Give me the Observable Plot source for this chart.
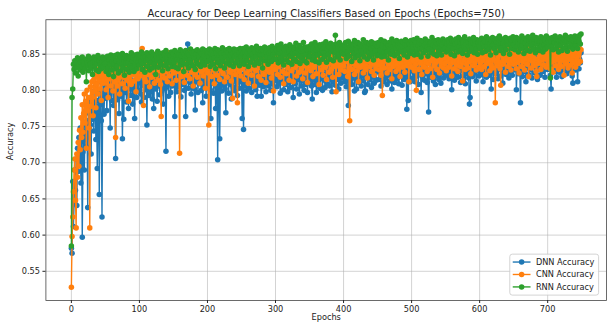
<!DOCTYPE html>
<html>
<head>
<meta charset="utf-8">
<script src="https://cdn.jsdelivr.net/npm/d3@7"></script>
<script src="https://cdn.jsdelivr.net/npm/@observablehq/plot@0.6"></script>
<style>
  html, body { margin: 0; padding: 0; background: #fff; overflow: hidden; }
  #wrap { width: 608px; height: 330px; overflow: hidden; position: relative; }
</style>
</head>
<body>
<div id="wrap"></div>
<script>
// Accuracy values in per-mille, one per epoch (0..749)
const dnnMilli = [
582,575,674,612,645,690,662,705,641,720,688,735,700,748,672,729,597,715,752,690,741,768,722,758,638,776,735,790,752,712,781,760,798,744,775,805,732,786,692,770,801,656,780,812,758,625,795,818,767,808,
789,815,772,801,826,795,810,748,822,786,805,831,779,812,798,706,820,803,787,828,768,809,834,792,815,733,804,760,823,797,811,784,826,802,775,818,836,793,809,824,781,813,799,761,829,806,790,817,835,800,
812,838,795,784,826,807,819,790,833,801,815,752,828,809,793,821,836,798,813,788,824,775,810,839,802,817,785,830,806,822,794,837,811,799,825,781,816,834,803,716,820,808,829,792,840,813,797,823,806,831,
817,835,764,809,826,798,821,837,805,814,829,791,823,808,836,812,800,827,764,818,832,864,803,825,811,838,795,820,807,833,816,802,773,829,812,840,797,822,809,831,815,800,826,783,819,835,806,824,792,830,
808,827,815,836,801,761,822,810,833,796,818,829,775,814,805,704,826,818,733,811,838,799,823,807,816,832,802,769,825,813,840,796,819,808,834,788,821,827,804,816,837,799,824,811,793,830,815,803,828,812,
822,761,817,746,831,806,824,799,835,812,818,803,829,815,838,797,810,826,808,833,817,801,823,792,836,814,807,828,820,792,813,839,805,825,811,830,798,822,816,834,806,819,826,800,832,815,809,783,827,818,
814,832,805,823,838,809,817,796,829,822,812,835,801,819,826,808,840,815,798,828,811,834,804,821,830,813,790,826,818,809,837,802,824,815,832,795,819,828,806,839,813,822,800,830,817,808,836,797,825,819,
829,812,836,806,788,823,815,840,808,826,797,832,819,811,837,803,825,816,834,800,822,830,814,804,838,818,809,827,821,841,806,831,817,798,835,823,812,829,807,843,820,815,833,802,826,838,810,824,817,832,
820,836,812,828,805,833,819,779,826,841,814,822,808,838,817,830,799,825,835,802,829,816,842,811,824,833,806,839,821,813,832,797,799,827,836,818,808,840,823,815,831,804,828,837,819,810,842,825,814,833,
826,841,815,832,822,806,838,819,829,812,843,824,817,835,808,830,839,821,813,836,827,802,833,818,844,811,828,837,823,816,840,809,831,825,834,819,807,842,828,815,836,822,830,774,818,786,839,826,812,833,
829,843,817,836,824,812,840,827,820,834,808,845,825,831,797,838,819,828,842,814,833,823,837,811,829,770,826,844,818,835,822,839,813,830,841,808,827,836,820,845,815,833,826,810,839,824,843,817,832,828,
838,821,834,827,845,816,831,840,823,801,836,828,844,814,830,839,822,847,818,833,826,841,811,835,829,843,820,837,825,809,840,831,823,846,817,781,790,834,828,842,819,836,845,824,831,813,839,827,843,820,
835,846,822,838,829,812,841,833,825,844,818,836,830,847,821,837,826,802,843,832,815,839,828,848,823,834,841,816,836,829,845,820,838,831,810,843,826,835,849,822,837,829,842,817,833,846,825,839,821,836,
844,828,837,849,801,832,841,823,846,835,783,830,843,819,838,847,826,834,812,845,831,839,822,848,836,829,843,817,840,833,850,824,837,845,828,815,842,834,848,821,839,830,844,826,836,849,818,841,833,846,
829,843,836,848,821,802,838,845,830,841,826,849,834,818,844,837,850,825,840,832,846,819,838,847,829,842,835,851,823,839,844,831,848,827,836,842,820,810,845,833,850,828,841,837,812,846,830,843,838,852
];
const cnnMilli = [
528,598,625,660,690,705,648,610,712,680,728,695,745,718,762,735,780,742,768,795,755,785,720,800,772,790,748,610,805,778,812,790,765,815,798,822,776,808,825,795,818,830,802,827,786,820,833,810,828,815,
826,801,835,815,790,831,818,840,806,828,836,799,822,838,812,735,829,842,806,833,817,795,837,820,843,809,830,818,839,803,834,845,814,828,785,836,811,824,808,838,822,846,813,833,840,798,827,844,816,835,
842,820,838,849,858,826,779,840,816,845,812,836,850,822,841,805,837,846,818,839,828,848,810,835,843,821,851,814,838,827,845,808,764,840,823,847,830,817,849,826,842,812,837,852,820,840,829,846,809,838,
824,844,831,851,814,839,847,826,842,713,832,849,819,841,852,828,811,845,835,850,821,843,830,853,816,840,847,825,844,806,837,852,822,846,834,818,850,828,843,810,848,826,841,853,820,845,833,803,842,830,
849,824,752,844,832,851,819,842,847,828,809,845,834,852,821,843,830,849,815,841,853,827,846,823,840,812,848,831,851,818,844,835,853,825,845,813,842,789,850,829,846,822,843,852,783,836,847,826,854,820,
841,850,830,845,815,848,834,853,824,844,810,851,828,846,838,821,852,831,844,806,849,827,847,836,854,819,843,832,851,814,845,829,852,822,847,838,811,850,830,844,853,825,846,833,817,851,831,799,848,836,
829,852,841,822,849,833,855,818,846,836,851,826,809,848,839,854,823,845,831,852,814,847,837,855,827,849,812,843,851,832,846,820,853,836,848,825,845,856,830,850,816,844,834,853,824,847,838,811,851,831,
846,854,827,849,836,819,852,832,845,856,823,848,839,851,808,847,835,855,828,850,821,845,853,832,849,815,846,837,856,825,851,840,829,853,818,848,835,857,833,798,850,838,854,822,847,832,852,828,845,856,
834,851,826,848,840,855,819,845,831,758,843,852,829,849,837,856,822,847,834,853,827,850,812,846,855,832,849,838,857,824,848,835,854,829,851,817,847,840,856,833,852,826,849,837,857,821,850,842,830,854,
835,852,843,828,855,821,849,793,839,853,831,850,841,857,824,848,836,855,829,851,842,816,853,833,849,838,858,826,850,835,854,830,848,819,856,837,851,832,847,855,825,849,840,857,834,852,812,848,837,856,
832,851,841,855,827,849,836,800,853,842,857,829,850,838,855,822,848,834,856,832,852,839,858,826,850,837,854,830,849,841,857,818,852,834,855,838,850,829,858,842,853,824,849,839,856,833,852,831,857,837,
850,827,855,840,852,832,858,837,849,820,854,839,851,830,857,843,835,855,826,850,840,858,833,853,838,813,851,842,856,829,852,836,859,831,849,840,855,823,853,841,857,834,850,838,858,828,852,843,856,832,
853,838,858,829,850,841,855,833,852,822,857,837,851,840,859,827,853,835,856,831,850,842,857,783,840,854,834,852,839,858,830,807,849,855,836,851,840,859,825,853,842,856,833,851,838,858,828,852,841,855,
836,853,842,858,830,851,839,856,824,854,841,859,833,852,840,857,828,853,843,858,836,851,819,855,842,859,831,852,840,857,834,853,843,826,819,856,837,852,841,859,829,854,842,857,835,853,844,858,832,855,
842,856,836,853,830,850,840,858,825,852,841,855,834,853,843,859,829,851,838,857,833,854,842,858,821,852,839,856,836,853,831,855,843,859,835,851,824,847,854,838,857,832,853,841,856,837,852,858,840,856
];
const rnnMilli = [
585,790,802,836,829,841,824,838,832,845,820,836,843,828,839,833,846,825,840,835,830,843,812,838,834,847,827,841,836,831,844,822,839,846,833,840,828,843,837,848,826,841,835,844,830,838,846,832,840,837,
843,826,839,847,831,822,842,836,849,828,840,845,819,837,848,830,841,833,850,824,843,838,846,827,836,851,832,842,821,845,837,848,829,839,844,825,847,834,852,831,841,845,826,849,835,843,830,850,838,846,
835,848,840,853,829,845,837,850,825,846,841,852,833,844,849,828,847,838,853,831,845,850,836,843,822,848,842,854,832,846,839,851,835,847,827,852,843,849,834,855,840,846,830,850,838,848,842,853,833,847,
850,838,855,832,847,843,852,830,849,841,856,835,848,840,853,826,850,844,855,836,847,851,831,849,842,857,837,852,834,848,845,854,829,850,840,856,836,849,846,853,833,851,843,857,839,848,835,855,844,852,
840,853,847,857,833,851,843,855,836,850,845,858,830,852,842,856,838,849,854,834,851,845,859,840,853,831,850,846,856,837,852,843,858,835,849,855,841,851,833,857,846,853,838,850,856,842,852,834,858,847,
855,840,851,858,836,853,846,860,841,852,833,856,848,854,839,859,850,844,857,835,853,847,861,840,852,856,837,850,858,843,854,831,855,849,860,841,853,846,857,836,852,859,845,854,840,861,850,856,843,853,
858,843,855,862,838,852,857,845,864,840,854,859,835,856,849,861,842,853,858,839,855,863,847,857,836,852,860,843,856,851,865,840,853,858,847,862,837,855,859,844,857,866,841,854,849,860,838,856,858,846,
861,847,857,864,842,855,859,846,866,840,856,862,849,858,838,863,851,860,855,843,864,852,859,847,867,839,857,862,850,860,843,865,854,858,861,841,863,852,876,855,846,864,857,849,866,842,858,862,852,860,
850,863,856,866,844,860,853,868,847,861,855,864,840,859,862,851,869,845,858,863,852,866,848,860,841,864,855,861,850,870,846,859,863,853,866,843,861,852,864,847,858,867,851,862,842,860,865,854,863,848,
861,866,850,863,855,870,846,861,864,852,868,847,860,865,853,862,842,866,857,863,850,871,855,861,867,848,863,858,869,851,862,865,844,864,856,868,853,861,866,849,863,870,855,862,846,867,858,864,851,869,
855,864,860,870,849,863,867,854,872,850,862,866,857,869,846,864,859,868,852,863,871,855,865,860,847,868,857,864,866,852,873,858,863,850,869,860,866,848,864,870,854,865,860,868,849,863,871,856,866,858,
867,853,864,870,856,866,861,872,850,865,868,857,869,848,864,871,859,866,853,873,861,867,855,865,870,851,866,860,874,856,864,868,849,867,861,871,854,865,869,858,866,873,852,864,868,857,870,850,866,861,
869,857,866,872,852,865,870,860,868,854,874,862,867,856,871,864,849,869,860,873,863,868,857,870,852,867,872,861,866,875,855,868,859,871,865,851,869,862,873,856,867,870,863,868,850,872,864,869,858,874,
863,870,856,868,873,861,867,853,871,864,869,858,875,862,868,851,872,865,859,870,855,874,864,869,854,871,862,868,876,857,867,870,852,873,864,869,858,871,855,868,874,861,867,853,872,863,869,857,875,865,
860,870,864,872,817,868,861,873,856,869,865,875,858,870,863,871,853,868,874,862,869,855,872,866,870,859,876,864,869,854,873,867,871,860,874,865,870,857,872,867,875,862,869,871,858,873,868,876,864,878
];

const models = ["DNN Accuracy", "CNN Accuracy", "RNN Accuracy"];
const colors = ["#1f77b4", "#ff7f0e", "#2ca02c"];
const xTicks = [0, 100, 200, 300, 400, 500, 600, 700];
const yTicks = [0.55, 0.60, 0.65, 0.70, 0.75, 0.80, 0.85];
const titleText = "Accuracy for Deep Learning Classifiers Based on Epochs (Epochs=750)";
const xLabel = "Epochs";
const yLabel = "Accuracy";

const seriesList = [dnnMilli, cnnMilli, rnnMilli].map((arr, k) =>
  arr.map((v, i) => ({epoch: i, acc: v / 1000, model: models[k]}))
);

const font = "DejaVu Sans, Liberation Sans, sans-serif";
const seriesMarks = [];
seriesList.forEach((rows, k) => {
  seriesMarks.push(Plot.line(rows, {x: "epoch", y: "acc", stroke: colors[k], strokeWidth: 1.4}));
  seriesMarks.push(Plot.dot(rows, {x: "epoch", y: "acc", fill: colors[k], r: 2.8, stroke: null}));
});

const chart = Plot.plot({
  width: 616,
  height: 330,
  marginTop: 19.5,
  marginBottom: 26,
  marginLeft: 46,
  marginRight: 2,
  style: {fontFamily: font, fontSize: "8.3px", background: "#fff", color: "#222"},
  x: {domain: [-37.45, 786.45]},
  y: {domain: [0.5096, 0.8976]},
  marks: [
    Plot.gridX(xTicks, {stroke: "#b0b0b0", strokeOpacity: 0.7, strokeWidth: 0.8}),
    Plot.gridY(yTicks, {stroke: "#b0b0b0", strokeOpacity: 0.7, strokeWidth: 0.8}),
    ...seriesMarks,
    Plot.frame({stroke: "#444", strokeWidth: 0.8}),
    Plot.axisX({ticks: xTicks, tickSize: 3, tickPadding: 3, label: null, fontSize: 8.3, tickFormat: d => String(d)}),
    Plot.axisY({ticks: yTicks, tickSize: 3, tickPadding: 3, label: null, fontSize: 8.3, tickFormat: d => d.toFixed(2)}),
    Plot.text([titleText], {frameAnchor: "top", dy: -10, fontSize: 10.2, fill: "#222", text: d => d}),
    Plot.text([xLabel], {frameAnchor: "bottom", dy: 20, fontSize: 8.3, fill: "#222", text: d => d}),
    Plot.text([yLabel], {frameAnchor: "left", dx: -36, rotate: -90, fontSize: 8.3, fill: "#222", text: d => d})
  ]
});

// Legend (lower right, matplotlib style)
const svg = d3.select(chart);
const lg = svg.append("g").attr("font-family", font).attr("font-size", "8.3px").attr("text-anchor", "start");
lg.append("rect").attr("x", 516.5).attr("y", 257.5).attr("width", 90).attr("height", 41.5)
  .attr("rx", 2.5).attr("fill", "#fff").attr("fill-opacity", 0.85).attr("stroke", "#c8c8c8").attr("stroke-width", 0.8);
models.forEach((m, k) => {
  const yy = 265.5 + k * 12.6;
  lg.append("line").attr("x1", 519.5).attr("x2", 537.5).attr("y1", yy).attr("y2", yy)
    .attr("stroke", colors[k]).attr("stroke-width", 1.4);
  lg.append("circle").attr("cx", 528.5).attr("cy", yy).attr("r", 2.8).attr("fill", colors[k]);
  lg.append("text").attr("x", 543).attr("y", yy).attr("dy", "0.35em").attr("text-anchor", "start").attr("fill", "#222").text(m);
});

document.getElementById("wrap").appendChild(chart);
</script>
</body>
</html>
